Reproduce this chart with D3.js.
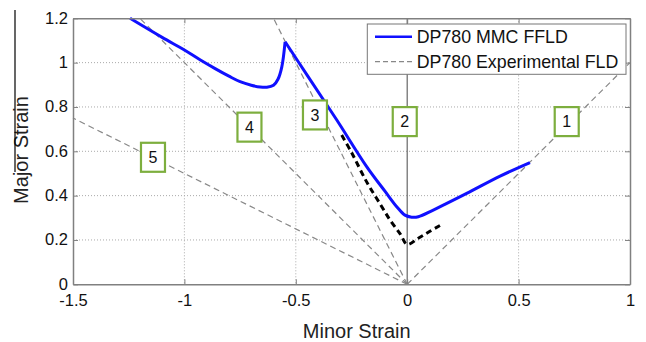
<!DOCTYPE html>
<html>
<head>
<meta charset="utf-8">
<script src="https://d3js.org/d3.v7.min.js"></script>
<style>
  body { margin: 0; background: #fff; }
  svg { display: block; font-family: "Liberation Sans", Arial, sans-serif; }
</style>
</head>
<body>
<svg id="chart" width="646" height="342"></svg>
<script>
// tick values
const xTicks = [-1.5, -1, -0.5, 0, 0.5, 1];
const yTicks = [0, 0.2, 0.4, 0.6, 0.8, 1, 1.2];

// DP780 MMC FFLD (blue)
const mmcX = [-1.244, -1.1, -1.0, -0.93, -0.86, -0.80, -0.75, -0.70, -0.66, -0.63, -0.60, -0.58, -0.563, -0.548,
              -0.45, -0.316, -0.182, -0.10, -0.047, -0.01, 0.02, 0.05, 0.117, 0.267, 0.417, 0.551];
const mmcY = [1.2, 1.114, 1.057, 1.013, 0.972, 0.939, 0.914, 0.898, 0.890, 0.889, 0.898, 0.925, 0.98, 1.094,
              0.945, 0.741, 0.531, 0.42, 0.350, 0.312, 0.303, 0.305, 0.335, 0.41, 0.488, 0.549];
const peakIndex = 13;

// DP780 Experimental FLD (black dashed)
const fldX = [-0.294, -0.25, -0.182, -0.12, -0.077, -0.03, 0, 0.05, 0.1, 0.147];
const fldY = [0.673, 0.595, 0.462, 0.36, 0.29, 0.225, 0.18, 0.208, 0.238, 0.265];

// strain paths from origin (end points)
const pathEndX = [1, 0, -0.6, -1.2, -1.5];
const pathEndY = [1, 1.2, 1.2, 1.2, 0.75];

// numbered labels
const labelNames = ['1', '2', '3', '4', '5'];
const labelX = [0.716, -0.011, -0.414, -0.708, -1.141];
const labelY = [0.734, 0.734, 0.764, 0.709, 0.573];

const legendNames = ['DP780 MMC FFLD', 'DP780 Experimental FLD'];

const svg = d3.select('#chart');
const plotL = 73, plotR = 630, plotT = 18.3, plotB = 284.3;

const x = d3.scaleLinear().domain([-1.5, 1]).range([plotL, plotR]);
const y = d3.scaleLinear().domain([0, 1.2]).range([plotB, plotT]);

// grid
const grid = svg.append('g');
grid.selectAll('line.gx')
  .data(xTicks.filter(d => d > -1.5 && d < 1 && d !== 0))
  .join('line')
    .attr('x1', d => x(d)).attr('x2', d => x(d))
    .attr('y1', plotT).attr('y2', plotB)
    .attr('stroke', '#aaa').attr('stroke-width', 1).attr('stroke-dasharray', '1,2');
grid.selectAll('line.gy')
  .data(yTicks.filter(d => d > 0 && d < 1.2))
  .join('line')
    .attr('x1', plotL).attr('x2', plotR)
    .attr('y1', d => y(d)).attr('y2', d => y(d))
    .attr('stroke', '#aaa').attr('stroke-width', 1).attr('stroke-dasharray', '1,2');

// strain paths
const paths = svg.append('g');
pathEndX.forEach((ex, i) => {
  paths.append('line')
    .attr('x1', x(0)).attr('y1', y(0))
    .attr('x2', x(ex)).attr('y2', y(pathEndY[i]))
    .attr('stroke', ex === 0 ? '#666' : '#888')
    .attr('stroke-width', 1.2)
    .attr('stroke-dasharray', ex === 0 ? null : '6,4');
});

// experimental FLD
const fldPts = fldX.map((d, i) => [d, fldY[i]]);
svg.append('path')
  .attr('d', d3.line().x(d => x(d[0])).y(d => y(d[1])).curve(d3.curveCatmullRom)(fldPts))
  .attr('fill', 'none').attr('stroke', '#000').attr('stroke-width', 3)
  .attr('stroke-dasharray', '6,4');

// MMC FFLD, split at the cusp
const mmcPts = mmcX.map((d, i) => [d, mmcY[i]]);
const mmcLine = d3.line().x(d => x(d[0])).y(d => y(d[1])).curve(d3.curveCatmullRom.alpha(0.5));
[mmcPts.slice(0, peakIndex + 1), mmcPts.slice(peakIndex)].forEach(seg => {
  svg.append('path')
    .attr('d', mmcLine(seg))
    .attr('fill', 'none').attr('stroke', '#1010ff').attr('stroke-width', 3)
    .attr('stroke-linejoin', 'round');
});

// axes frame
const axisColor = '#808080';
const gx = svg.append('g').attr('transform', `translate(0,${plotB})`)
  .call(d3.axisBottom(x).tickValues(xTicks).tickFormat(String).tickSizeInner(-5).tickSizeOuter(0).tickPadding(10));
const gy = svg.append('g').attr('transform', `translate(${plotL},0)`)
  .call(d3.axisLeft(y).tickValues(yTicks).tickFormat(String).tickSizeInner(-5).tickSizeOuter(0).tickPadding(5));
const gxTop = svg.append('g').attr('transform', `translate(0,${plotT})`)
  .call(d3.axisTop(x).tickValues(xTicks).tickFormat('').tickSizeInner(-5).tickSizeOuter(0));
const gyRight = svg.append('g').attr('transform', `translate(${plotR},0)`)
  .call(d3.axisRight(y).tickValues(yTicks).tickFormat('').tickSizeInner(-5).tickSizeOuter(0));
[gx, gy, gxTop, gyRight].forEach(g => {
  g.select('.domain').attr('stroke', axisColor).attr('stroke-width', 1.5);
  g.selectAll('.tick line').attr('stroke', axisColor);
  g.selectAll('.tick text').attr('fill', '#111').attr('font-size', 16.5)
    .attr('font-family', '"Liberation Sans", Arial, sans-serif');
});
gy.selectAll('.tick text').attr('dy', '0.3em');

// numbered label boxes
const lab = svg.append('g').selectAll('g').data(labelNames).join('g')
  .attr('transform', (d, i) => `translate(${x(labelX[i])},${y(labelY[i])})`);
lab.append('rect')
  .attr('x', -12).attr('y', -14.5).attr('width', 24).attr('height', 29)
  .attr('fill', '#fff').attr('stroke', '#7dae3e').attr('stroke-width', 2.2);
lab.append('text')
  .attr('text-anchor', 'middle').attr('dy', '0.36em')
  .attr('font-size', 16).attr('fill', '#111')
  .text(d => d);

// legend
const leg = svg.append('g');
leg.append('rect')
  .attr('x', 367.3).attr('y', 24).attr('width', 258.7).attr('height', 50.3)
  .attr('fill', '#fff').attr('stroke', '#777').attr('stroke-width', 1);
const legY = [36.7, 61.7];
leg.append('line').attr('x1', 375).attr('x2', 412).attr('y1', legY[0]).attr('y2', legY[0])
  .attr('stroke', '#1010ff').attr('stroke-width', 2.5);
leg.append('line').attr('x1', 375).attr('x2', 412).attr('y1', legY[1]).attr('y2', legY[1])
  .attr('stroke', '#888').attr('stroke-width', 1.2).attr('stroke-dasharray', '5,3');
leg.selectAll('text').data(legendNames).join('text')
  .attr('x', 416.7).attr('y', (d, i) => legY[i]).attr('dy', '0.36em')
  .attr('font-size', 17.8).attr('fill', '#111')
  .text(d => d);

// axis titles
svg.append('text')
  .attr('x', 356.7).attr('y', 338)
  .attr('text-anchor', 'middle').attr('font-size', 20).attr('fill', '#222')
  .text('Minor Strain');
svg.append('text')
  .attr('transform', 'translate(28,150) rotate(-90)')
  .attr('text-anchor', 'middle').attr('font-size', 20).attr('fill', '#222')
  .text('Major Strain');

// stray edge mark at far left
svg.append('line').attr('x1', 15).attr('x2', 15).attr('y1', 10).attr('y2', 172)
  .attr('stroke', '#000').attr('stroke-width', 1.2);
</script>
</body>
</html>
